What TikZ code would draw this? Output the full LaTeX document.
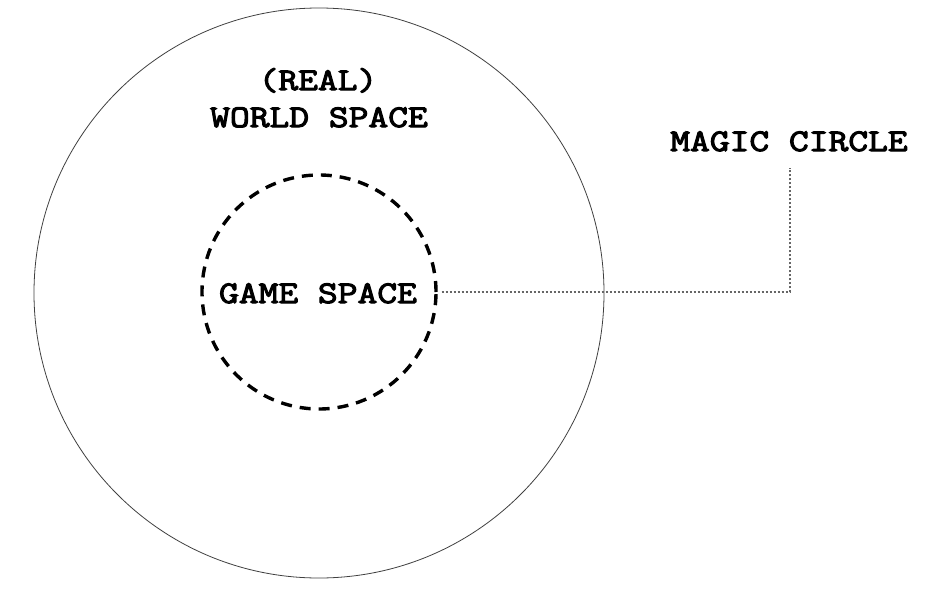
\documentclass[tikz,border=0pt]{standalone}
\usepackage{fontspec}
\newfontfamily\lblfont{Latin Modern Mono}[FakeBold=3.5,FakeStretch=1.22]
\begin{document}
\begin{tikzpicture}[x=1pt,y=1pt,
  lbl/.style={font=\lblfont\fontsize{31.5}{36}\selectfont, inner sep=0pt, anchor=base},
  worldcircle/.style={circle, draw=black!75, line width=0.8pt, minimum size=570pt, inner sep=0pt},
  gamecircle/.style={circle, draw=black, line width=3.4pt, dash pattern=on 11pt off 8pt, minimum size=234pt, inner sep=0pt},
  leader/.style={draw=black!60, line width=1.2pt, dash pattern=on 2pt off 2pt}]
\useasboundingbox (0,0) rectangle (926,-594);
\node[worldcircle] (world) at (319,-293) {};
\node[gamecircle] (game) at (319,-292) {};
\node[lbl] (real) at (318,-90) {(REAL)};
\node[lbl] (worldlbl) at (319,-127) {WORLD SPACE};
\node[lbl] (gamelbl) at (318,-303) {GAME SPACE};
\node[lbl] (magic) at (789,-151) {MAGIC CIRCLE};
\coordinate (gstart) at ([xshift=4pt]game.east);
\coordinate (mc) at (790,-168);
\draw[leader] (gstart) -| (mc);
\end{tikzpicture}
\end{document}
